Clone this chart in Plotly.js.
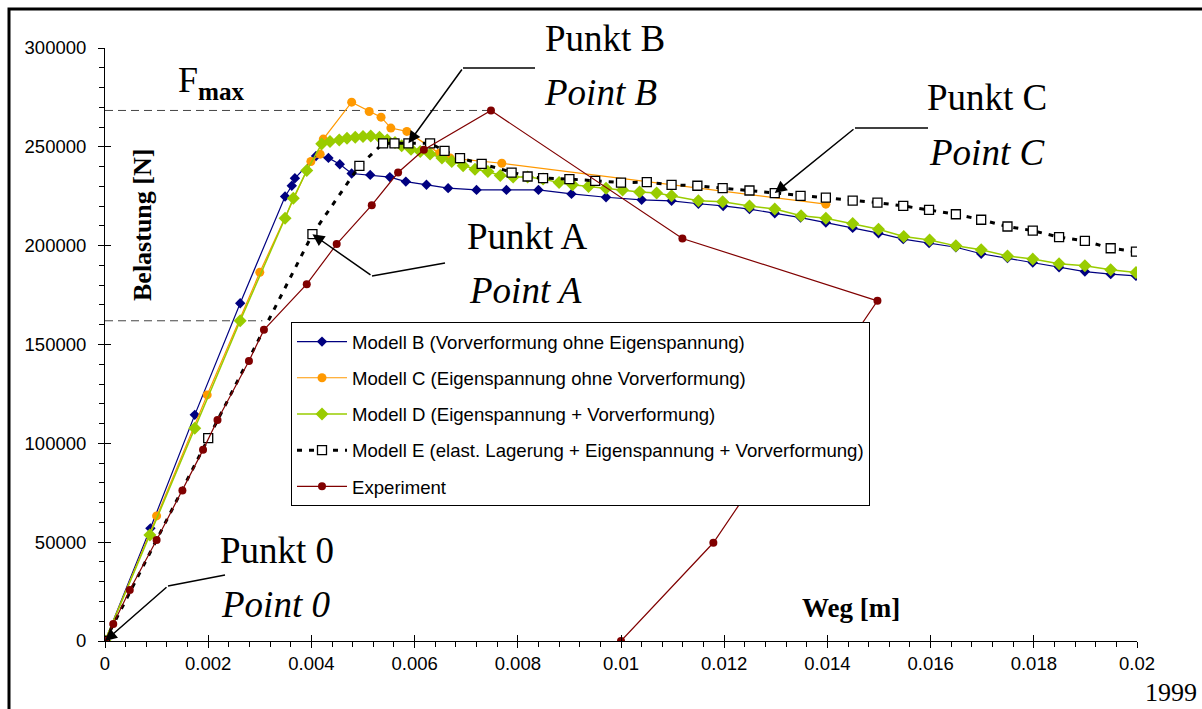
<!DOCTYPE html>
<html>
<head>
<meta charset="utf-8">
<script src="https://cdn.plot.ly/plotly-3.0.1.min.js"></script>
<style>html,body{margin:0;padding:0;background:#fff;}#chart{width:1202px;height:709px;}</style>
</head>
<body>
<div id="chart"></div>
<script>
// ---- data (Weg [m], Belastung [N]) ----
const modellB_x = [0,0.00088,0.00174,0.00262,0.00349,0.00362,0.00368,0.00409,0.00433,0.00455,0.00478,0.00514,0.00552,0.00583,0.00623,0.00665,0.0072,0.00778,0.0084,0.00904,0.00971,0.0104,0.01098,0.0115,0.01198,0.01249,0.01298,0.01348,0.01397,0.01449,0.01499,0.01547,0.01597,0.01649,0.01698,0.01749,0.01798,0.01849,0.01899,0.01949,0.01998];
const modellB_y = [0,57000,114400,170900,224900,230300,234100,245400,244400,241200,236500,235800,234700,232400,230800,229100,228200,228200,228200,226200,224500,223200,222700,221200,220100,218500,216400,214200,211700,209000,206300,203300,201300,199200,195900,193700,191500,189100,186900,185600,184700];

const modellC_x = [0,0.001,0.00198,0.003,0.00399,0.00417,0.00423,0.00478,0.00512,0.00535,0.00554,0.00585,0.00648,0.00669,0.00769,0.01397];
const modellC_y = [0,63300,124500,186500,242600,246300,253900,272600,267900,265000,259500,257800,246700,244300,241700,221000];

const modellD_x = [0,0.00087,0.00174,0.00262,0.00349,0.00365,0.00391,0.0042,0.00436,0.00454,0.00469,0.00485,0.005,0.00515,0.00532,0.00547,0.00562,0.00575,0.00593,0.00611,0.0063,0.00653,0.00672,0.00694,0.00717,0.00742,0.00766,0.00791,0.00819,0.00849,0.0088,0.00906,0.00937,0.00971,0.01003,0.01036,0.01069,0.01098,0.0115,0.01197,0.01249,0.01298,0.01349,0.01397,0.01449,0.01499,0.01548,0.01598,0.01649,0.01698,0.01749,0.01798,0.01849,0.01899,0.01949,0.01998];
const modellD_y = [0,53600,107600,162000,213900,224000,238000,251500,252700,253500,254400,254900,255200,255500,254900,253500,252200,250500,248800,247600,246400,244300,242600,240400,238700,237500,235500,234700,234700,233700,231900,230800,229900,229100,228200,227100,226600,225200,222700,222200,220100,218500,215100,213900,211200,208300,204600,202900,199900,197900,194800,193200,190800,189800,187800,186400];

const modellE_x = [0,0.002,0.00402,0.00493,0.00539,0.00561,0.00588,0.0063,0.00658,0.00688,0.0073,0.00788,0.00819,0.00849,0.009,0.0095,0.01,0.0105,0.01098,0.01148,0.01197,0.01249,0.01298,0.01348,0.01397,0.01449,0.01497,0.01547,0.01597,0.01649,0.01698,0.01749,0.01798,0.01849,0.01899,0.01949,0.01998];
const modellE_y = [0,102600,205800,240400,251800,251800,251800,251800,248000,244300,241400,237000,235000,234200,233700,232800,231900,232100,230800,230300,229100,227900,226600,225200,224300,222800,221800,220100,218100,215900,213100,209700,207600,204300,202400,198700,197000];

const experiment_x = [0,0.00016,0.00048,0.001,0.0015,0.0019,0.00218,0.00279,0.00308,0.00391,0.00449,0.00517,0.00568,0.00618,0.00748,0.01119,0.01497,0.01179,0.01];
const experiment_y = [0,8600,25800,51100,76100,96700,111800,141700,157400,180500,200800,220500,237000,248500,268400,203600,172100,49700,0];

const seriesNames = [
  'Modell B (Vorverformung ohne Eigenspannung)',
  'Modell C (Eigenspannung ohne Vorverformung)',
  'Modell D (Eigenspannung + Vorverformung)',
  'Modell E (elast. Lagerung + Eigenspannung + Vorverformung)',
  'Experiment'
];

const xTickVals = [0,0.002,0.004,0.006,0.008,0.01,0.012,0.014,0.016,0.018,0.02];
const xTickText = ['0','0.002','0.004','0.006','0.008','0.01','0.012','0.014','0.016','0.018','0.02'];
const yTickVals = [0,50000,100000,150000,200000,250000,300000];
const yTickText = ['0','50000','100000','150000','200000','250000','300000'];

// lower reference line
const lowerRefLoad = 162000;
const lowerRefWeg = 0.00305;

// ---- layout helpers (pixel -> paper) ----
const L = 105, R = 1137, T = 48, B = 641;
const px = (x) => (x - L) / (R - L);
const py = (y) => (B - y) / (B - T);

const sans = 'Liberation Sans, Arial, sans-serif';
const serif = 'Liberation Serif, Times New Roman, serif';

const traces = [
  {x: modellB_x, y: modellB_y, name: seriesNames[0], mode: 'lines+markers', legendgroup: 'b',
   line: {color: '#000080', width: 1.2}, marker: {symbol: 'diamond', size: 8, color: '#000080'}},
  {x: modellC_x, y: modellC_y, name: seriesNames[1], mode: 'lines+markers', legendgroup: 'c',
   line: {color: '#FF9900', width: 1.2}, marker: {symbol: 'circle', size: 9, color: '#FF9900'}},
  {x: modellD_x, y: modellD_y, name: seriesNames[2], mode: 'lines+markers', legendgroup: 'd',
   line: {color: '#99CC00', width: 1.5}, marker: {symbol: 'diamond', size: 10, color: '#99CC00'}},
  {x: modellE_x, y: modellE_y, name: seriesNames[3], mode: 'lines+markers', legendgroup: 'e',
   line: {color: '#000000', width: 3, dash: '5px,7px'},
   marker: {symbol: 'square', size: 9, color: '#ffffff', line: {color: '#000000', width: 1.3}}},
  {x: experiment_x, y: experiment_y, name: seriesNames[4], mode: 'lines+markers', legendgroup: 'x',
   line: {color: '#800000', width: 1.2}, marker: {symbol: 'circle', size: 8, color: '#800000'}},
  {x: [null], y: [null], xaxis: 'x2', yaxis: 'y2', showlegend: false, hoverinfo: 'skip', mode: 'markers'}
];

const peakIdx = experiment_y.indexOf(Math.max(...experiment_y));

function leader(start, bend, tip) {
  return {
    shape: {type: 'line', xref: 'x', yref: 'y', x0: start[0], y0: start[1], x1: bend[0], y1: bend[1],
            line: {color: 'black', width: 1.5}},
    ann: {xref: 'x', yref: 'y', axref: 'x', ayref: 'y', x: tip[0], y: tip[1], ax: bend[0], ay: bend[1],
          text: '', showarrow: true, arrowhead: 2, arrowsize: 1.6, arrowwidth: 1.5, arrowcolor: 'black', standoff: 0}
  };
}
const dataX = (p) => (p - L) / 51600;
const dataY = (p) => (B - p) / ((B - T) / 300000);

const leaders = [
  leader([dataX(535), dataY(68)], [dataX(463), dataY(68)], [modellE_x[6], modellE_y[6]]),   // Punkt B
  leader([dataX(928), dataY(128)], [dataX(855), dataY(128)], [modellE_x[22], modellE_y[22]]), // Punkt C
  leader([dataX(445), dataY(263)], [dataX(372), dataY(276)], [modellE_x[2], modellE_y[2]]),  // Punkt A
  leader([dataX(225), dataY(575)], [dataX(168), dataY(586)], [modellE_x[0], modellE_y[0]])   // Punkt 0
];

function label(text, x, y, italic) {
  return {xref: 'paper', yref: 'paper', x: px(x), y: py(y), xanchor: 'center', yanchor: 'middle',
          text: italic ? '<i>' + text + '</i>' : text, showarrow: false,
          font: {family: serif, size: 37, color: 'black'}};
}

const annotations = [
  label('Punkt B', 605, 38), label('Point B', 600, 92, true),
  label('Punkt C', 987, 98), label('Point C', 987, 152, true),
  label('Punkt A', 527, 236), label('Point A', 525, 290, true),
  label('Punkt 0', 277, 550), label('Point 0', 275, 604, true),
  {xref: 'paper', yref: 'paper', x: px(211), y: py(83), xanchor: 'center', yanchor: 'middle', showarrow: false,
   text: 'F<sub><b>max</b></sub>', font: {family: serif, size: 36, color: 'black'}},
  {xref: 'paper', yref: 'paper', x: px(142), y: py(225), xanchor: 'center', yanchor: 'middle', showarrow: false,
   textangle: -90, text: '<b>Belastung [N]</b>', font: {family: serif, size: 26, color: 'black'}},
  {xref: 'paper', yref: 'paper', x: px(851), y: py(608), xanchor: 'center', yanchor: 'middle', showarrow: false,
   text: '<b>Weg [m]</b>', font: {family: serif, size: 27, color: 'black'}},
  {xref: 'paper', yref: 'paper', x: px(1171), y: py(692), xanchor: 'center', yanchor: 'middle', showarrow: false,
   text: '1999', font: {family: serif, size: 26, color: 'black'}}
].concat(leaders.map(l => l.ann));

const shapes = [
  {type: 'line', xref: 'x', yref: 'y', x0: 0, x1: experiment_x[peakIdx], y0: experiment_y[peakIdx], y1: experiment_y[peakIdx],
   line: {color: '#444', width: 1, dash: '8px,5px'}, layer: 'below'},
  {type: 'line', xref: 'x', yref: 'y', x0: 0, x1: lowerRefWeg, y0: lowerRefLoad, y1: lowerRefLoad,
   line: {color: '#444', width: 1, dash: '8px,5px'}, layer: 'below'},
  {type: 'rect', xref: 'paper', yref: 'paper', x0: px(9), x1: px(1215), y0: py(720), y1: py(9),
   line: {color: 'black', width: 3}, fillcolor: 'rgba(0,0,0,0)'}
].concat(leaders.map(l => l.shape));

const axisFont = {family: sans, size: 18.5, color: 'black'};

const layout = {
  width: 1202, height: 709,
  margin: {l: L, r: 1202 - R, t: T, b: 709 - B, pad: 0},
  paper_bgcolor: 'white', plot_bgcolor: 'white',
  showlegend: true,
  legend: {x: px(291), y: py(322), xanchor: 'left', yanchor: 'top', bgcolor: 'white',
           bordercolor: 'black', borderwidth: 1, font: {family: sans, size: 18.6, color: 'black'},
           traceorder: 'grouped', tracegroupgap: 9, itemwidth: 50},
  xaxis: {range: [0, 0.02], showgrid: false, zeroline: false, showline: true, linecolor: 'black', linewidth: 1,
          tickvals: xTickVals, ticktext: xTickText, ticks: 'outside', ticklen: 6, tickcolor: 'black',
          tickfont: axisFont, minor: {dtick: 0.0004, ticks: 'outside', ticklen: 5, tickcolor: 'black', showgrid: false}},
  yaxis: {range: [0, 300000], showgrid: false, zeroline: false, showline: true, linecolor: 'black', linewidth: 1,
          tickvals: yTickVals, ticktext: yTickText, ticks: 'outside', ticklen: 6, tickcolor: 'black',
          ticklabelstandoff: 8,
          tickfont: axisFont, minor: {dtick: 10000, ticks: 'outside', ticklen: 5, tickcolor: 'black', showgrid: false}},
  xaxis2: {overlaying: 'x', anchor: 'y', range: [0, 0.02], showgrid: false, zeroline: false, showline: false,
           tickvals: xTickVals, ticks: 'inside', ticklen: 6, tickcolor: 'black', showticklabels: false},
  yaxis2: {overlaying: 'y', anchor: 'x', side: 'left', range: [0, 300000], showgrid: false, zeroline: false, showline: false,
           tickvals: yTickVals, ticks: 'inside', ticklen: 6, tickcolor: 'black', showticklabels: false},
  annotations: annotations,
  shapes: shapes
};

Plotly.newPlot('chart', traces, layout, {displayModeBar: false, staticPlot: true});
</script>
</body>
</html>
